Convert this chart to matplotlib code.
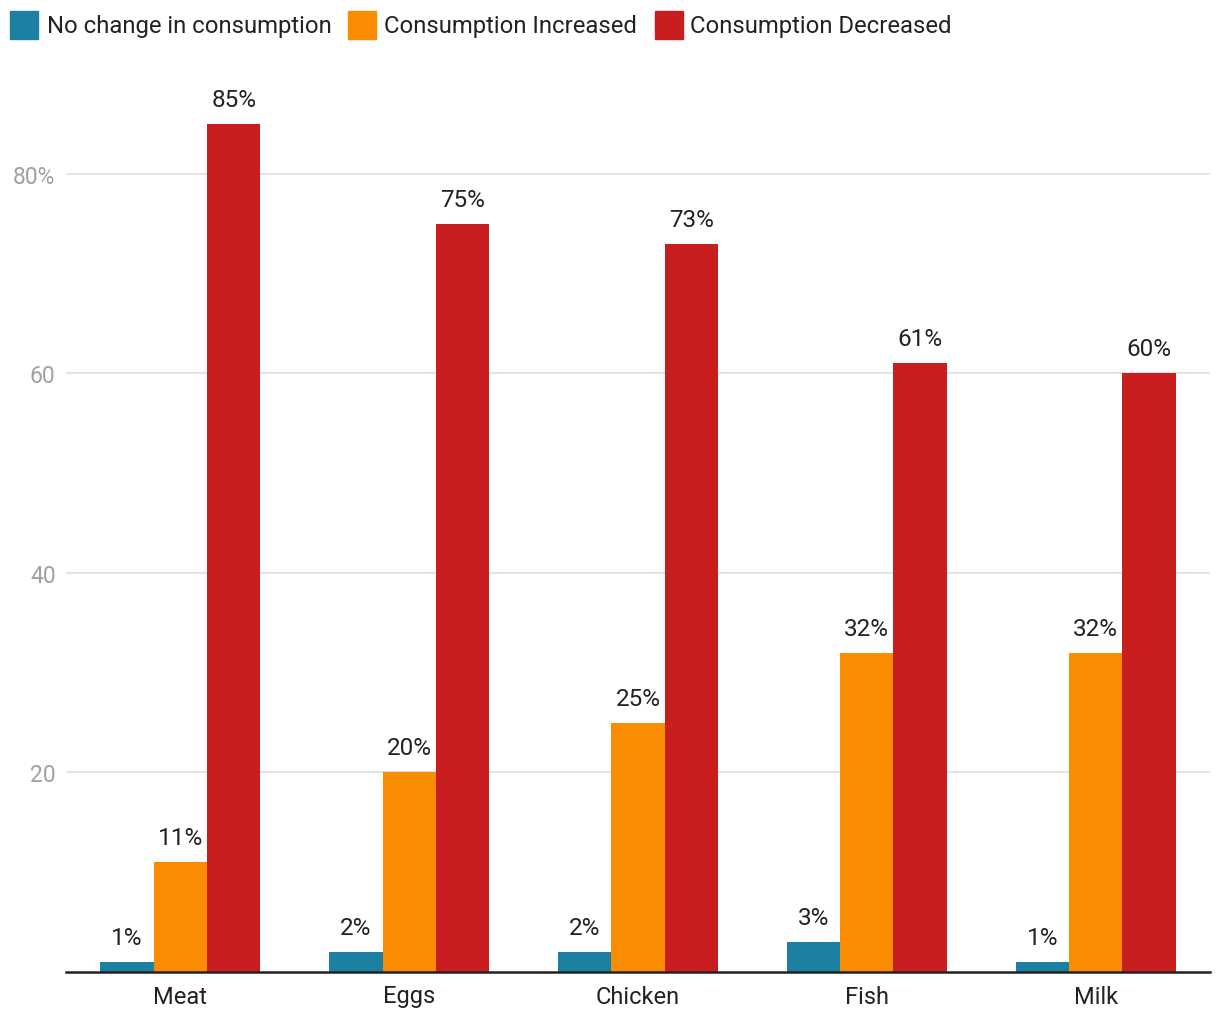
import matplotlib
matplotlib.use("Agg")
import matplotlib.pyplot as plt
from matplotlib.patches import Rectangle
import numpy as np

plt.rcParams['font.family'] = ['Roboto', 'DejaVu Sans']

categories = ["Meat", "Eggs", "Chicken", "Fish", "Milk"]
series_names = ["No change in consumption", "Consumption Increased", "Consumption Decreased"]
no_change = [1, 2, 2, 3, 1]
increased = [11, 20, 25, 32, 32]
decreased = [85, 75, 73, 61, 60]
yticks = [20, 40, 60, 80]
ytick_labels = ["20", "40", "60", "80%"]

colors = ["#1b80a2", "#f98c00", "#c91e1f"]

fig = plt.figure(figsize=(12.2, 10.2), dpi=100)
ax = fig.add_axes([66/1220, 1 - 973/1020, (1210-66)/1220, (973-75)/1020])

x = np.arange(len(categories))
w = 0.233
for i, (vals, c) in enumerate(zip([no_change, increased, decreased], colors)):
    pos = x + (i - 1) * w
    ax.bar(pos, vals, width=w, color=c, zorder=3)
    for p, v in zip(pos, vals):
        ax.text(p, v + 1.3, f"{v}%", ha='center', va='bottom', fontsize=17.5, color='#222222')

ax.set_xlim(-0.5, len(categories) - 0.5)
ax.set_ylim(0, 90)
ax.set_yticks(yticks)
ax.set_yticklabels(ytick_labels, fontsize=16.5, color='#a0a0a0')
ax.set_xticks(x)
ax.set_xticklabels(categories, fontsize=17, color='#222222')
ax.tick_params(axis='y', length=0, pad=7.5)
ax.tick_params(axis='x', length=0, pad=9)
ax.grid(axis='y', color='#e2e2e2', linewidth=1.3, zorder=0)
for s in ['top', 'right', 'left']:
    ax.spines[s].set_visible(False)
ax.spines['bottom'].set_color('#222222')
ax.spines['bottom'].set_linewidth(1.8)
ax.spines['bottom'].set_zorder(4)

# legend
leg_sq = [10, 348, 655]
leg_tx = [47, 384, 690]
for sx, tx, name, c in zip(leg_sq, leg_tx, series_names, colors):
    fig.patches.append(Rectangle((sx/1220, 1 - 40/1020), 28/1220, 28/1020,
                                 transform=fig.transFigure, color=c, figure=fig))
    fig.text(tx/1220, 1 - 26/1020, name, ha='left', va='center', fontsize=17.2, color='#222222')

fig.savefig("out.png", dpi=100)
